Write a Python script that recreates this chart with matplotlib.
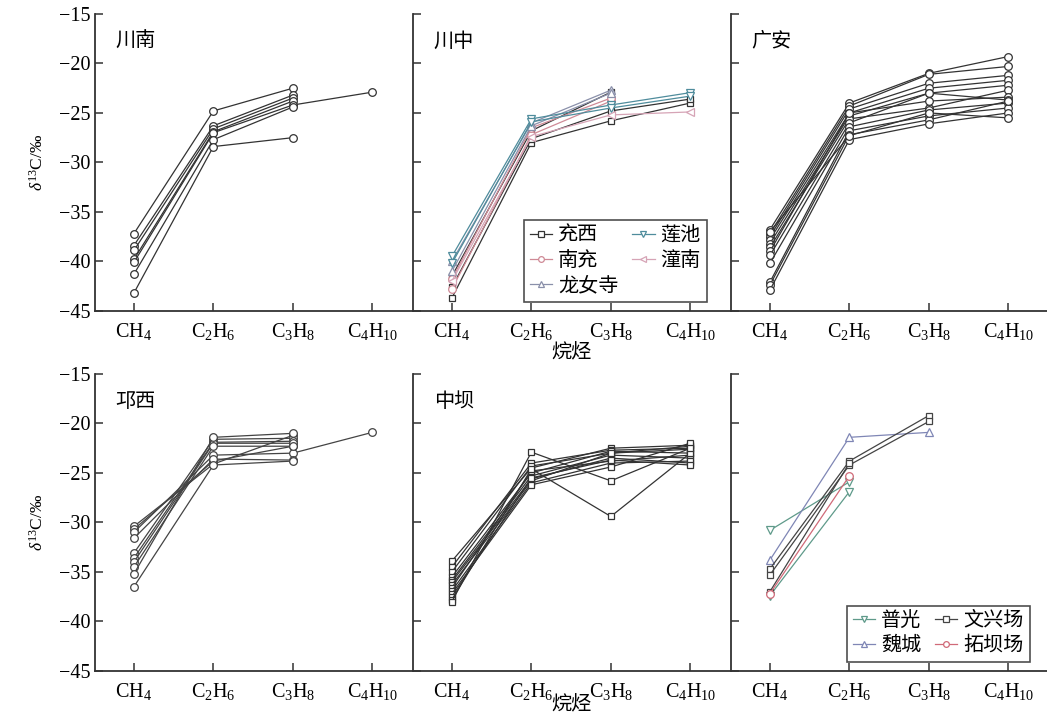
import numpy as np
import matplotlib
matplotlib.use("Agg")
import matplotlib.pyplot as plt

plt.rcParams['font.family'] = ['Liberation Serif', 'Noto Sans CJK SC', 'DejaVu Sans']
plt.rcParams['mathtext.fontset'] = 'custom'
plt.rcParams['mathtext.rm'] = 'Liberation Serif'
plt.rcParams['mathtext.it'] = 'Liberation Serif:italic'
plt.rcParams['axes.unicode_minus'] = True

nan = np.nan
x_labels = ['CH$_4$', 'C$_2$H$_6$', 'C$_3$H$_8$', 'C$_4$H$_{10}$']
x_pos = [1, 2, 3, 4]

chuannan = [
    [-37.2, -24.8, -22.5, nan],
    [-38.4, -26.3, -23.2, nan],
    [-38.9, -26.6, -23.5, nan],
    [-39.8, -26.9, -23.8, nan],
    [-40.1, -27.0, -24.2, -22.9],
    [-41.3, -27.7, -24.4, nan],
    [-43.2, -28.4, -27.5, nan],
]

chuanzhong_chongxi = [
    [-43.7, -28.0, -25.8, -24.0],
    [-42.6, -27.6, -24.8, -23.6],
    [-41.5, -26.8, -22.9, nan],
]
chuanzhong_nanchong = [
    [-42.8, -27.2, -23.8, nan],
    [-41.8, -26.5, -23.5, nan],
]
chuanzhong_longnvsi = [
    [-40.0, -26.0, -22.7, nan],
    [-41.0, -26.3, -23.0, nan],
]
chuanzhong_lianchi = [
    [-39.5, -25.6, -24.2, -22.95],
    [-40.2, -25.9, -24.5, -23.3],
]
chuanzhong_tongnan = [
    [-42.0, -27.4, -25.2, -24.9],
]

guangan = [
    [-36.8, -24.0, -21.0, -19.3],
    [-37.2, -24.3, -21.1, -20.3],
    [-37.5, -24.6, -22.0, -21.2],
    [-37.8, -25.0, -22.5, -21.7],
    [-38.2, -25.3, -23.0, -22.2],
    [-38.6, -25.6, -24.5, -22.7],
    [-39.0, -25.0, -23.8, -23.4],
    [-39.4, -26.0, -23.0, -23.7],
    [-40.2, -26.4, -24.7, -24.0],
    [-42.1, -26.8, -25.3, -24.5],
    [-42.4, -27.2, -25.7, -23.8],
    [-42.9, -27.7, -26.1, -25.0],
    [-37.0, -27.3, -25.0, -25.5],
]

qiongxi = [
    [-30.4, -24.1, -21.2, nan],
    [-30.7, -23.8, -22.3, nan],
    [-31.0, -23.2, -23.0, -20.9],
    [-31.6, -23.6, -23.7, nan],
    [-33.1, -21.6, -21.5, nan],
    [-33.6, -21.9, -21.8, nan],
    [-34.0, -22.0, -22.0, nan],
    [-34.5, -22.3, -22.3, nan],
    [-35.2, -21.4, -21.0, nan],
    [-36.5, -24.2, -23.8, nan],
]

zhongba = [
    [-33.9, -24.5, -22.5, -22.2],
    [-34.5, -24.0, -22.7, -22.5],
    [-35.0, -24.3, -23.0, -22.3],
    [-35.5, -25.0, -22.8, -23.0],
    [-35.8, -25.3, -23.2, -23.5],
    [-36.0, -25.6, -23.5, -24.0],
    [-36.3, -25.8, -23.0, -22.6],
    [-36.6, -24.8, -23.8, -23.2],
    [-36.9, -26.0, -24.0, -23.8],
    [-37.2, -26.2, -24.4, -22.0],
    [-37.5, -25.5, -23.7, -24.2],
    [-37.8, -24.6, -29.4, -23.0],
    [-38.0, -22.9, -25.8, -22.5],
]

puguang = [
    [-30.8, -25.9, nan, nan],
    [-37.4, -26.9, nan, nan],
]
weicheng = [
    [-33.8, -21.4, -20.9, nan],
]
wenxingchang = [
    [-34.7, -23.8, -19.2, nan],
    [-35.3, -24.2, -19.8, nan],
    [-37.0, -24.0, nan, nan],
]
tuobachang = [
    [-37.2, -25.3, nan, nan],
]

fig = plt.figure(figsize=(10.47, 7.17), dpi=100)
W, H = 1047, 717
lefts = [95, 413, 731]
aw = 317
row_tops = [14, 374]
ah = 296.8

axes = []
for r in range(2):
    row = []
    for c in range(3):
        ax = fig.add_axes([lefts[c] / W, 1 - (row_tops[r] + ah) / H, aw / W, ah / H])
        row.append(ax)
    axes.append(row)

spine_col = '#333333'
for r in range(2):
    for c in range(3):
        ax = axes[r][c]
        ax.set_xlim(0.51, 4.5)
        ax.set_ylim(-45, -15)
        ax.set_yticks([-45, -40, -35, -30, -25, -20, -15])
        ax.set_xticks(x_pos)
        ax.set_xticklabels(x_labels, fontsize=14.5)
        for s in ['top', 'right']:
            ax.spines[s].set_visible(False)
        for s in ['left', 'bottom']:
            ax.spines[s].set_color(spine_col)
            ax.spines[s].set_linewidth(1.3)
        ax.tick_params(direction='in', length=6, width=1.1, color=spine_col, labelsize=14.5)
        ax.tick_params(axis='x', pad=7)
        if c != 0:
            ax.tick_params(axis='y', labelleft=False)

for r in range(2):
    yc = 1 - (row_tops[r] + ah / 2) / H
    fig.text(38 / W, yc, r'$\delta^{13}$C/‰', rotation=90, fontsize=12.5,
             ha='center', va='center')

def draw(ax, data, marker, color, label=None, ms=5.5):
    for i, s in enumerate(data):
        y = np.array(s, dtype=float)
        m = ~np.isnan(y)
        xs = np.array(x_pos)[m]
        ax.plot(xs, y[m], color=color, lw=0.9, marker=marker, ms=ms,
                mfc='white', mec=color, mew=0.9,
                label=label if i == 0 else None, zorder=3)

def title(ax, t):
    ax.text(0.065, 0.905, t, transform=ax.transAxes, fontsize=14.5, va='center')

leg_kw = dict(ncol=2, loc='lower right', fontsize=14.5, frameon=True, fancybox=False,
              edgecolor='#222222', handlelength=1.1, handletextpad=0.3,
              columnspacing=0.7, borderpad=0.3, labelspacing=0.3, markerscale=0.75,
              borderaxespad=0)

# 川南
ax = axes[0][0]
draw(ax, chuannan, 'o', '#333333')
title(ax, '川南')

# 川中
ax = axes[0][1]
draw(ax, chuanzhong_chongxi, 's', '#333333', '充西', ms=5)
draw(ax, chuanzhong_nanchong, 'o', '#cf8a96', '南充')
draw(ax, chuanzhong_longnvsi, '^', '#8a90aa', '龙女寺')
draw(ax, chuanzhong_lianchi, 'v', '#4f8c9c', '莲池')
draw(ax, chuanzhong_tongnan, '<', '#d6a4b6', '潼南')
title(ax, '川中')
leg = ax.legend(bbox_to_anchor=(0.927, 0.03), **leg_kw)
leg.get_frame().set_linewidth(1.2)

# 广安
ax = axes[0][2]
draw(ax, guangan, 'o', '#333333')
title(ax, '广安')

# 邛西
ax = axes[1][0]
draw(ax, qiongxi, 'o', '#444444')
title(ax, '邛西')

# 中坝
ax = axes[1][1]
draw(ax, zhongba, 's', '#333333', ms=5)
title(ax, '中坝')

# 右下
ax = axes[1][2]
draw(ax, puguang, 'v', '#5f9a8a', '普光')
draw(ax, weicheng, '^', '#7f86b5', '魏城')
draw(ax, wenxingchang, 's', '#444444', '文兴场', ms=5)
draw(ax, tuobachang, 'o', '#d06a78', '拓坝场')
leg = ax.legend(bbox_to_anchor=(0.943, 0.03), **leg_kw)
leg.get_frame().set_linewidth(1.2)

axes[0][1].set_xlabel('烷烃', fontsize=14.5, labelpad=2)
axes[1][1].set_xlabel('烷烃', fontsize=14.5, labelpad=-3.5)

fig.savefig('out.png', dpi=100)
